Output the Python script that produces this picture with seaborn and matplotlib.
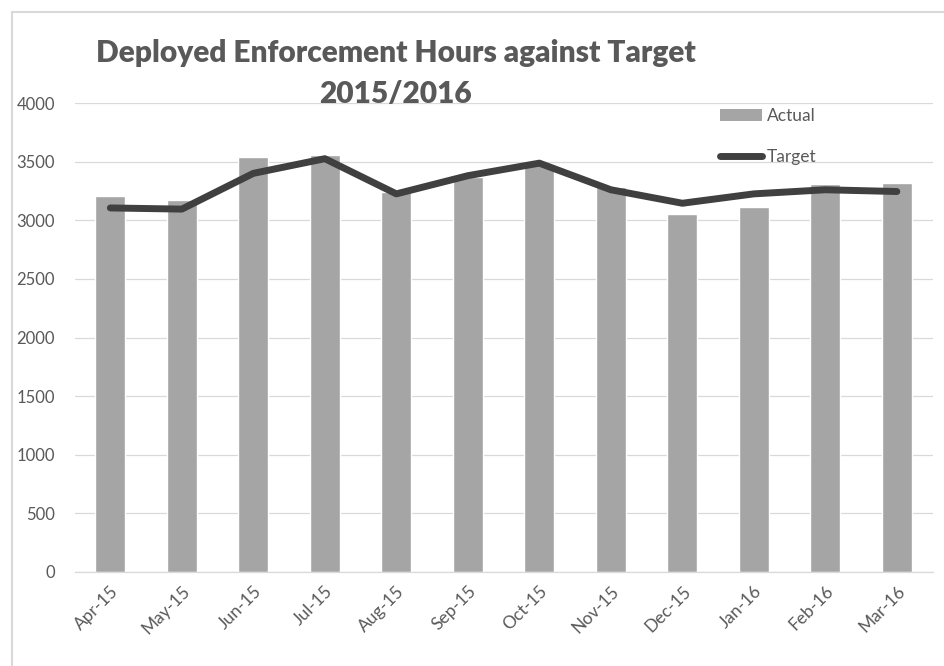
import numpy as np
import pandas as pd
import matplotlib
matplotlib.use("Agg")
import matplotlib.pyplot as plt
import seaborn as sns
from matplotlib.patches import Rectangle, Patch
from matplotlib.lines import Line2D

months = ["Apr-15", "May-15", "Jun-15", "Jul-15", "Aug-15", "Sep-15",
          "Oct-15", "Nov-15", "Dec-15", "Jan-16", "Feb-16", "Mar-16"]
actual = [3210, 3175, 3540, 3560, 3240, 3370, 3480, 3285, 3055, 3115, 3305, 3315]
target = [3105, 3095, 3400, 3525, 3225, 3380, 3487, 3260, 3145, 3225, 3260, 3245]
yticks = [0, 500, 1000, 1500, 2000, 2500, 3000, 3500, 4000]
title_lines = ["Deployed Enforcement Hours against Target", "2015/2016"]

sns.set_theme(style="white")
plt.rcParams["font.family"] = ["Lato", "DejaVu Sans"]

W, H = 944, 666
fig = plt.figure(figsize=(W / 100, H / 100), dpi=100)
ax = fig.add_axes([74.6 / W, 1 - 572 / H, (932.6 - 74.6) / W, (572 - 103) / H])

df = pd.DataFrame({"Month": months, "Actual": actual, "Target": target})

sns.barplot(data=df, x="Month", y="Actual", color="#A5A5A5", saturation=1,
            width=0.42, ax=ax, zorder=2)
sns.pointplot(data=df, x="Month", y="Target", color="#404040", marker="",
              linewidth=5, errorbar=None, ax=ax, zorder=3,
              solid_capstyle="round", solid_joinstyle="round")

ax.set_ylim(0, 4000)
ax.set_xlim(-0.5, 11.5)
ax.set_yticks(yticks)
ax.set_yticklabels([str(v) for v in yticks], fontsize=12, color="#595959")
ax.set_xticks(range(len(months)))
ax.set_xticklabels(months, rotation=45, ha="right", rotation_mode="anchor",
                   fontsize=12.5, color="#595959")
ax.tick_params(axis="x", which="major", length=0, pad=8)
ax.tick_params(axis="y", length=0, pad=14)
ax.set_xticks(np.arange(-0.5, 12, 1), minor=True)
ax.tick_params(axis="x", which="minor", length=5, color="#D9D9D9", width=0.8)
ax.yaxis.grid(True, color="#D9D9D9", linewidth=0.9, zorder=0)
ax.set_axisbelow(True)
ax.set_xlabel("")
ax.set_ylabel("")
for s in ["top", "right", "left"]:
    ax.spines[s].set_visible(False)
ax.spines["bottom"].set_color("#D9D9D9")
ax.spines["bottom"].set_linewidth(0.9)

# chart border
fig.patches.append(Rectangle((12 / W, -0.1), 1.2, 1 - 12 / H + 0.1,
                             transform=fig.transFigure, fill=False,
                             edgecolor="#D9D9D9", linewidth=1.5))

fig.text(396 / W, 1 - 53 / H, title_lines[0], ha="center", va="center",
         fontsize=21.5, fontweight="heavy", color="#595959")
fig.text(396 / W, 1 - 94 / H, title_lines[1], ha="center", va="center",
         fontsize=21.5, fontweight="heavy", color="#595959")

handles = [Patch(facecolor="#A5A5A5", edgecolor="none"),
           Line2D([0], [0], color="#404040", linewidth=5, solid_capstyle="round")]
leg = fig.legend(handles, ["Actual", "Target"], loc="upper left",
                 bbox_to_anchor=(720 / W, 1 - 108 / H), frameon=False,
                 fontsize=12.5, handlelength=2.4, handleheight=0.7,
                 handletextpad=0.3, labelspacing=1.45, borderpad=0,
                 borderaxespad=0)
for t in leg.get_texts():
    t.set_color("#595959")

fig.savefig("out.png", dpi=100, facecolor="white")
